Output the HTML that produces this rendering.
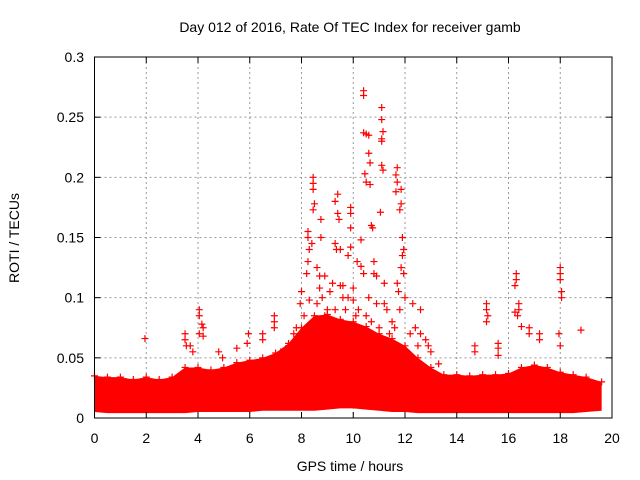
<!DOCTYPE html>
<html><head><meta charset="utf-8"><style>
body{margin:0;background:#fff}
svg{display:block;font-family:"Liberation Sans",sans-serif}
</style></head><body>
<svg id="c" width="640" height="480" xmlns="http://www.w3.org/2000/svg">
<rect width="640" height="480" fill="#fff"/>
<text x="350" y="32" font-size="14" text-anchor="middle">Day 012 of 2016, Rate Of TEC Index for receiver gamb</text>
<text x="350" y="471" font-size="14" text-anchor="middle">GPS time / hours</text>
<text transform="translate(19,238) rotate(-90)" font-size="14" text-anchor="middle">ROTI / TECUs</text>
<g id="grid"></g><g id="data"></g><g id="axes"></g>
</svg>
<script>
const xTicks=[0,2,4,6,8,10,12,14,16,18,20];
const yTicks=[0,0.05,0.1,0.15,0.2,0.25,0.3];
const yTickLabels=["0","0.05","0.1","0.15","0.2","0.25","0.3"];
const bandHours=[0,0.5,1,1.5,2,2.5,3,3.5,4,4.5,5,5.5,6,6.5,7,7.5,8,8.5,9,9.5,10,10.5,11,11.5,12,12.5,13,13.5,14,14.5,15,15.5,16,16.5,17,17.5,18,18.5,19,19.6];
const bandTop=[0.035,0.034,0.034,0.032,0.034,0.032,0.034,0.042,0.042,0.04,0.042,0.046,0.048,0.05,0.054,0.062,0.075,0.085,0.086,0.082,0.08,0.076,0.07,0.066,0.06,0.05,0.042,0.036,0.036,0.035,0.036,0.036,0.037,0.042,0.044,0.042,0.038,0.036,0.034,0.03];
const bandBottom=[0.005,0.004,0.004,0.004,0.004,0.004,0.004,0.004,0.005,0.005,0.005,0.005,0.005,0.006,0.006,0.006,0.006,0.006,0.007,0.008,0.008,0.007,0.006,0.005,0.005,0.004,0.004,0.004,0.004,0.004,0.004,0.004,0.004,0.004,0.004,0.004,0.004,0.004,0.005,0.006];
const outHours=[10.4,10.4,10.4,10.5,11.1,11.1,11.15,11.1,11.1,10.6,10.6,10.65,11.1,11.15,10.45,10.5,10.65,11.7,11.65,11.7,11.65,11.85,11.85,11.8,11.05,8.45,8.45,8.45,8.5,8.45,9.4,9.3,9.4,9.45,9.9,9.9,8.75,8.25,8.25,8.75,10.7,10.75,10.3,9.9,8.3,8.4,9.3,9.35,9.5,9.9,9.8,11.9,11.95,11.9,11.85,11.95,8.2,8.25,8.6,8.7,8.9,9.2,9.5,10.15,10.3,10.4,10.8,10.8,10.9,11.2,11.7,11.75,12.0,12.3,12.6,8.0,7.95,8.3,6.95,6.95,6.95,6.5,6.5,5.95,5.9,5.5,4.05,4.05,4.15,4.2,4.05,4.2,3.5,3.5,3.55,3.7,3.8,1.95,4.8,4.95,16.3,16.3,16.25,18.0,18.0,18.0,18.05,18.05,15.15,15.15,15.2,15.15,16.25,16.35,16.4,16.4,16.5,16.8,16.8,17.2,17.2,18.8,17.95,18.0,14.7,14.7,15.6,15.6,15.6,13.3,12.9,12.8,12.6,8.6,8.8,9.0,9.3,9.6,9.8,10.0,10.5,10.9,11.3,11.5,7.8,8.1,8.9,9.1,9.7,10.1,10.7,11.0,11.4,12.2,12.5,7.5,7.2,9.0,10.2,11.6,8.7,9.1,9.6,10.0,10.6,11.2,11.8,12.4,7.7,13.0];
const outValues=[0.272,0.268,0.237,0.236,0.258,0.248,0.238,0.232,0.23,0.235,0.22,0.212,0.21,0.206,0.203,0.196,0.194,0.208,0.202,0.196,0.188,0.19,0.178,0.173,0.171,0.2,0.195,0.19,0.178,0.173,0.186,0.18,0.17,0.165,0.175,0.17,0.165,0.155,0.15,0.15,0.16,0.158,0.148,0.158,0.14,0.145,0.145,0.14,0.14,0.142,0.135,0.15,0.14,0.135,0.125,0.12,0.12,0.13,0.125,0.118,0.118,0.112,0.11,0.13,0.126,0.12,0.12,0.13,0.118,0.112,0.112,0.105,0.1,0.095,0.09,0.105,0.095,0.098,0.085,0.08,0.075,0.07,0.065,0.07,0.062,0.058,0.09,0.085,0.078,0.075,0.07,0.068,0.07,0.065,0.06,0.06,0.055,0.066,0.055,0.05,0.12,0.115,0.11,0.125,0.12,0.115,0.105,0.1,0.095,0.09,0.085,0.08,0.088,0.085,0.095,0.09,0.076,0.075,0.07,0.07,0.065,0.073,0.07,0.06,0.06,0.055,0.062,0.058,0.052,0.045,0.06,0.065,0.07,0.095,0.1,0.09,0.09,0.1,0.1,0.098,0.085,0.095,0.09,0.08,0.075,0.085,0.085,0.08,0.09,0.085,0.08,0.075,0.07,0.07,0.06,0.06,0.055,0.08,0.09,0.075,0.108,0.105,0.11,0.108,0.1,0.095,0.09,0.075,0.07,0.055];
const X0=94.5,X1=612,Y0=418,Y1=57;
const sx=h=>X0+(h-0)/(20-0)*(X1-X0);
const sy=v=>Y0-(v-0)/(0.3-0)*(Y0-Y1);
const NS="http://www.w3.org/2000/svg";
function mk(t,a,p){const e=document.createElementNS(NS,t);for(const k in a)e.setAttribute(k,a[k]);p.appendChild(e);return e;}
const grid=document.getElementById('grid'),data=document.getElementById('data'),axes=document.getElementById('axes');
xTicks.forEach(t=>{const x=sx(t);
 if(t>0&&t<20){const g=mk('line',{x1:x,x2:x,y1:Y1,y2:Y0,stroke:'#999','stroke-dasharray':'2,3'},grid);}
 mk('line',{x1:x,x2:x,y1:Y0,y2:Y0-6,stroke:'#000'},axes);mk('line',{x1:x,x2:x,y1:Y1,y2:Y1+6,stroke:'#000'},axes);
 const l=mk('text',{x:x,y:443,'font-size':14,'text-anchor':'middle'},axes);l.textContent=t;
 
 });
yTicks.forEach((t,i)=>{const y=sy(t);
 if(i>0&&i<yTicks.length-1){const g=mk('line',{x1:X0,x2:X1,y1:y,y2:y,stroke:'#999','stroke-dasharray':'2,3'},grid);}
 mk('line',{x1:X0,x2:X0+6,y1:y,y2:y,stroke:'#000'},axes);mk('line',{x1:X1,x2:X1-6,y1:y,y2:y,stroke:'#000'},axes);
 const l=mk('text',{x:84,y:y+5,'font-size':14,'text-anchor':'end'},axes);l.textContent=yTickLabels[i];
 
 });
const frame=mk('rect',{x:X0,y:Y1,width:X1-X0,height:Y0-Y1,fill:'none',stroke:'#000'},axes);


let d='';bandHours.forEach((h,i)=>{d+=(i?'L':'M')+sx(h)+','+sy(bandTop[i]);});
for(let i=bandHours.length-1;i>=0;i--)d+='L'+sx(bandHours[i])+','+sy(bandBottom[i]);
const band=mk('path',{d:d+'Z',fill:'#f00'},data);


bandHours.forEach((h,i)=>{const x=sx(h),y=sy(bandTop[i]);
 const p=mk('path',{d:`M${x-3.5},${y}h7M${x},${y-3.5}v7`,stroke:'#f00','stroke-width':1.2},data);
 
 });
outHours.forEach((h,i)=>{const x=sx(h),y=sy(outValues[i]);
 const p=mk('path',{d:`M${x-3.5},${y}h7M${x},${y-3.5}v7`,stroke:'#f00','stroke-width':1.2},data);
 
 });
</script>
</body></html>
